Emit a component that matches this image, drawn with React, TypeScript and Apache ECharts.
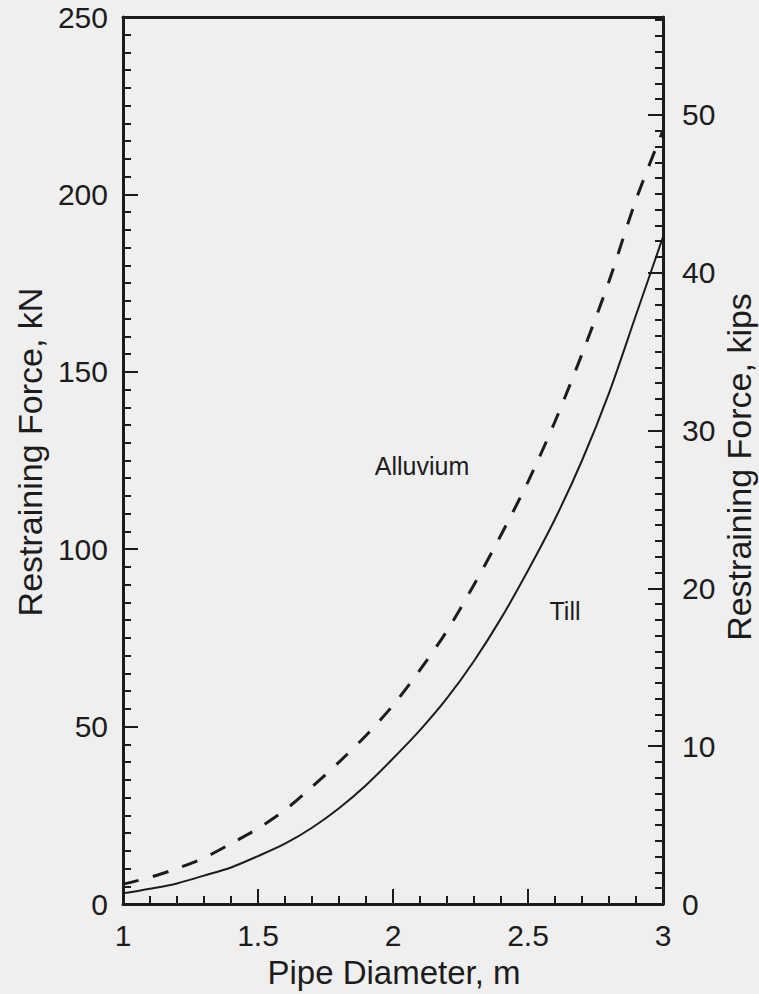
import { useEffect, useRef } from "react";
import * as echarts from "echarts";

// Pipe diameter (m) and restraining force (kN) for the two soil types
const diameters = [1.0, 1.1, 1.2, 1.3, 1.4, 1.5, 1.6, 1.7, 1.8, 1.9, 2.0, 2.1, 2.2, 2.3, 2.4, 2.5, 2.6, 2.7, 2.8, 2.9, 3.0];
const tillKN = [3, 4.3, 5.8, 8, 10.3, 13.5, 17, 21.5, 27, 33.5, 41, 49, 58, 68.5, 80.5, 94, 108.5, 125, 144, 166, 188];
const alluviumKN = [5.6, 7.5, 10, 13, 17, 21.3, 26.5, 33, 40, 47.5, 56, 66, 77, 90, 104, 119, 136, 155, 175.5, 198.5, 218];

// Axis ticks
const kNMax = 250;
const kipTicks = [0, 10, 20, 30, 40, 50];
const kipMinorTicks = Array.from({ length: 57 }, (_, i) => i);
const KN_PER_KIP = 4.448;

const INK = "#1c1c1c";
const FONT = "Liberation Sans, Arial, Helvetica, sans-serif";

export default function App() {
  const ref = useRef<HTMLDivElement>(null);

  useEffect(() => {
    if (!ref.current) return;
    const chart = echarts.init(ref.current, undefined, { renderer: "svg" });
    const kipMax = kNMax / KN_PER_KIP;

    const labelStyle = { color: INK, fontFamily: FONT, fontSize: 30 };
    const titleFont = `34px ${FONT}`;

    chart.setOption({
      animation: false,
      backgroundColor: "#f0eff0",
      grid: { left: 123, right: 96, top: 17, bottom: 90, outerBoundsMode: "none" },
      xAxis: [
        {
          type: "value",
          min: 1,
          max: 3,
          interval: 0.5,
          position: "bottom",
          axisLine: { lineStyle: { color: INK, width: 3 } },
          axisTick: { inside: true, length: 15, lineStyle: { color: INK, width: 2 } },
          minorTick: { show: true, splitNumber: 5, length: 8, lineStyle: { color: INK, width: 2 } },
          splitLine: { show: false },
          axisLabel: { ...labelStyle, margin: 16 },
        },
        {
          type: "value",
          min: 1,
          max: 3,
          position: "top",
          axisLine: { show: true, onZero: false, lineStyle: { color: INK, width: 3 } },
          axisTick: { show: false },
          axisLabel: { show: false },
          splitLine: { show: false },
        },
      ],
      yAxis: [
        {
          type: "value",
          min: 0,
          max: kNMax,
          interval: 50,
          position: "left",
          axisLine: { show: true, lineStyle: { color: INK, width: 3 } },
          axisTick: { show: true, inside: true, length: 15, lineStyle: { color: INK, width: 2 } },
          minorTick: { show: true, splitNumber: 10, length: 8, lineStyle: { color: INK, width: 2 } },
          splitLine: { show: false },
          axisLabel: { ...labelStyle, margin: 15 },
        },
        {
          type: "value",
          min: 0,
          max: kipMax,
          position: "right",
          axisLine: { show: true, onZero: false, lineStyle: { color: INK, width: 3 } },
          axisTick: {
            show: true,
            inside: true,
            length: 15,
            customValues: kipTicks,
            lineStyle: { color: INK, width: 2 },
          },
          splitLine: { show: false },
          axisLabel: { ...labelStyle, margin: 19, customValues: kipTicks },
        },
        {
          type: "value",
          min: 0,
          max: kipMax,
          position: "right",
          axisLine: { show: false },
          axisTick: {
            show: true,
            inside: true,
            length: 8,
            customValues: kipMinorTicks,
            lineStyle: { color: INK, width: 2 },
          },
          splitLine: { show: false },
          axisLabel: { show: false },
        },
      ],
      series: [
        {
          name: "Till",
          type: "line",
          xAxisIndex: 0,
          yAxisIndex: 0,
          smooth: 0.3,
          showSymbol: false,
          data: diameters.map((d, i) => [d, tillKN[i]]),
          lineStyle: { color: INK, width: 2 },
          z: 3,
        },
        {
          name: "Alluvium",
          type: "line",
          xAxisIndex: 0,
          yAxisIndex: 0,
          smooth: 0.3,
          showSymbol: false,
          data: diameters.map((d, i) => [d, alluviumKN[i]]),
          lineStyle: { color: INK, width: 3, type: [16, 15] },
          z: 3,
        },
      ],
      graphic: [
        {
          type: "text",
          x: 30,
          y: 452,
          rotation: Math.PI / 2,
          style: {
            text: "Restraining Force, kN",
            fill: INK,
            font: titleFont,
            align: "center",
            verticalAlign: "middle",
          },
        },
        {
          type: "text",
          x: 739,
          y: 467,
          rotation: Math.PI / 2,
          style: {
            text: "Restraining Force, kips",
            fill: INK,
            font: titleFont,
            align: "center",
            verticalAlign: "middle",
          },
        },
        {
          type: "text",
          x: 394,
          y: 972,
          style: {
            text: "Pipe Diameter, m",
            fill: INK,
            font: `33px ${FONT}`,
            align: "center",
            verticalAlign: "middle",
          },
        },
        {
          type: "text",
          x: 422,
          y: 466,
          style: {
            text: "Alluvium",
            fill: INK,
            font: `25px ${FONT}`,
            align: "center",
            verticalAlign: "middle",
          },
        },
        {
          type: "text",
          x: 565,
          y: 611,
          style: {
            text: "Till",
            fill: INK,
            font: `25px ${FONT}`,
            align: "center",
            verticalAlign: "middle",
          },
        },
      ],
    });

    return () => chart.dispose();
  }, []);

  return (
    <div
      ref={ref}
      style={{ position: "fixed", left: 0, top: 0, width: 759, height: 994 }}
    />
  );
}
